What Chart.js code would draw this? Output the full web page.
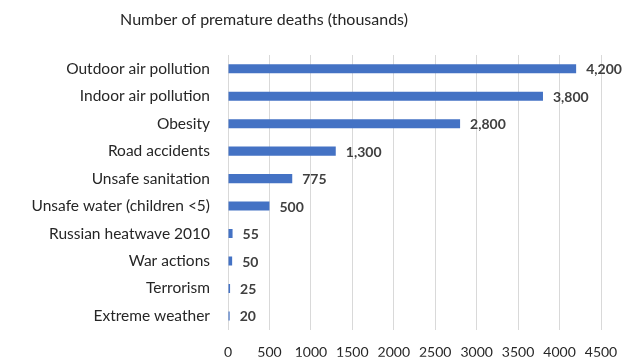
<!DOCTYPE html>
<html>
<head>
<meta charset="utf-8">
<script src="https://cdn.jsdelivr.net/npm/chart.js@4"></script>
<style>
  html, body { margin: 0; padding: 0; background: #fff; }
  #wrap { width: 624px; height: 357px; }
</style>
</head>
<body>
<div id="wrap"><canvas id="chart" width="624" height="357"></canvas></div>
<script>
// categories and values (thousands of premature deaths)
const causes = [
    'Outdoor air pollution',
    'Indoor air pollution',
    'Obesity',
    'Road accidents',
    'Unsafe sanitation',
    'Unsafe water (children <5)',
    'Russian heatwave 2010',
    'War actions',
    'Terrorism',
    'Extreme weather'
];
const deaths = [4200, 3800, 2800, 1300, 775, 500, 55, 50, 25, 20];
const xTicks = [0, 500, 1000, 1500, 2000, 2500, 3000, 3500, 4000, 4500];
const chartTitle = 'Number of premature deaths (thousands)';

const FONT = 'Lato, "Open Sans", sans-serif';

// value next to each bar + title (Excel puts it off-centre, so drawn by hand)
const valueLabels = {
    id: 'valueLabels',
    afterDatasetsDraw(chart) {
        const ctx = chart.ctx;
        const meta = chart.getDatasetMeta(0);
        ctx.save();
        ctx.font = 'bold 14px ' + FONT;
        ctx.fillStyle = '#404040';
        ctx.textAlign = 'left';
        ctx.textBaseline = 'middle';
        meta.data.forEach((bar, i) => {
            ctx.fillText(deaths[i].toLocaleString('en-US'), bar.x + 10, bar.y + 1);
        });
        ctx.font = '16px ' + FONT;
        ctx.fillStyle = '#262626';
        ctx.textAlign = 'center';
        ctx.fillText(chartTitle, 264, 20);
        ctx.restore();
    }
};

const ctx = document.getElementById('chart').getContext('2d');
const chart = new Chart(ctx, {
    type: 'bar',
    data: {
        labels: causes,
        datasets: [{
            data: deaths,
            backgroundColor: '#4472C4',
            borderWidth: 0,
            barPercentage: 0.66,
            categoryPercentage: 0.5
        }]
    },
    options: {
        indexAxis: 'y',
        responsive: false,
        animation: false,
        layout: { padding: { left: 0, right: 23, top: 55, bottom: 0 } },
        plugins: {
            legend: { display: false },
            tooltip: { enabled: false },
            title: { display: false }
        },
        scales: {
            x: {
                min: 0,
                max: 4500,
                afterBuildTicks: (scale) => { scale.ticks = xTicks.map(v => ({ value: v })); },
                afterFit: (scale) => {
                    scale.height = 27;
                    scale.paddingLeft = 0;
                    scale.paddingRight = 0;
                },
                grid: { color: '#d9d9d9', drawTicks: false },
                border: { display: false },
                ticks: {
                    color: '#262626',
                    padding: 14,
                    maxRotation: 0,
                    font: { family: FONT, size: 14 },
                    callback: (v) => String(v)
                }
            },
            y: {
                afterFit: (scale) => { scale.width = 228; },
                grid: { display: false, drawTicks: false },
                border: { display: false },
                ticks: {
                    color: '#262626',
                    padding: 18,
                    font: { family: FONT, size: 15.5 }
                }
            }
        }
    },
    plugins: [valueLabels]
});
</script>
</body>
</html>
